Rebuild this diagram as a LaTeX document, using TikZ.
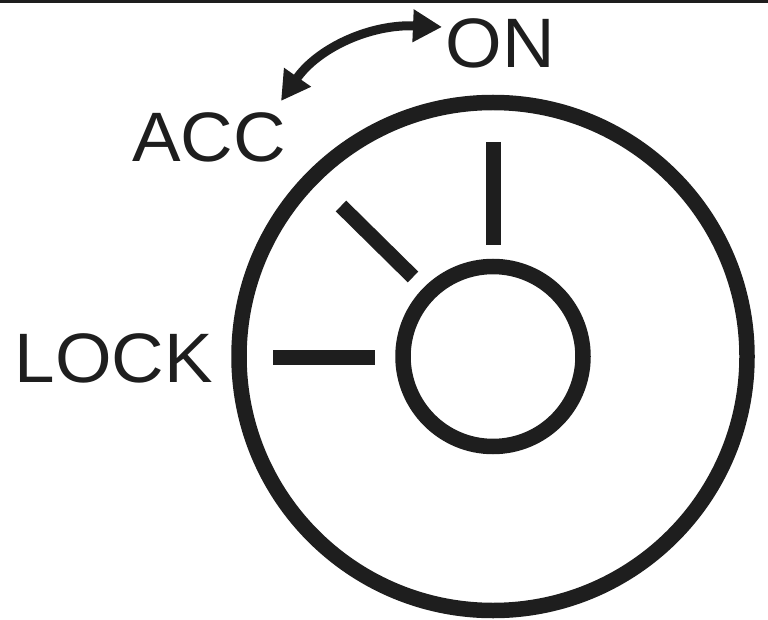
\documentclass[tikz,border=0pt]{standalone}
\usepackage{fontspec}
\setmainfont{Liberation Sans}
\usetikzlibrary{arrows.meta}
\definecolor{ink}{RGB}{30,30,30}
\begin{document}
\begin{tikzpicture}[x=1pt,y=-1pt,
  ring/.style={draw=ink,line width=15.5pt},
  tick/.style={draw=ink,line width=15pt,line cap=butt},
  lbl/.style={font=\fontsize{70}{70}\selectfont,text=ink,inner sep=0pt,anchor=base,xscale=1.04},
  turn/.style={draw=ink,line width=9pt,{Triangle[length=29pt,width=31pt]}-{Triangle[length=29pt,width=31pt]}}]
\useasboundingbox (0,0) rectangle (768,620);
\draw[draw=ink,line width=3.3pt] (0,1.7) -- (768,1.7);
\coordinate (c) at (493,356.5);
\draw[ring] (c) circle[radius=254];
\draw[ring] (c) circle[radius=90];
\coordinate (onA) at (493.5,142);
\coordinate (onB) at (493.5,245);
\coordinate (accA) at (341,206);
\coordinate (accB) at (413,277);
\coordinate (lockA) at (273,357.5);
\coordinate (lockB) at (375,357.5);
\draw[tick] (onA) -- (onB);
\draw[tick] (accA) -- (accB);
\draw[tick] (lockA) -- (lockB);
\node[lbl] (on) at (500,68) {ON};
\node[lbl] (acc) at (209,162) {ACC};
\node[lbl] (lock) at (114,382) {LOCK};
\coordinate (accTip) at (281,101);
\coordinate (onTip) at (442,27);
\draw[turn] (accTip) .. controls (318,48) and (370,24) .. (onTip);
\end{tikzpicture}
\end{document}
